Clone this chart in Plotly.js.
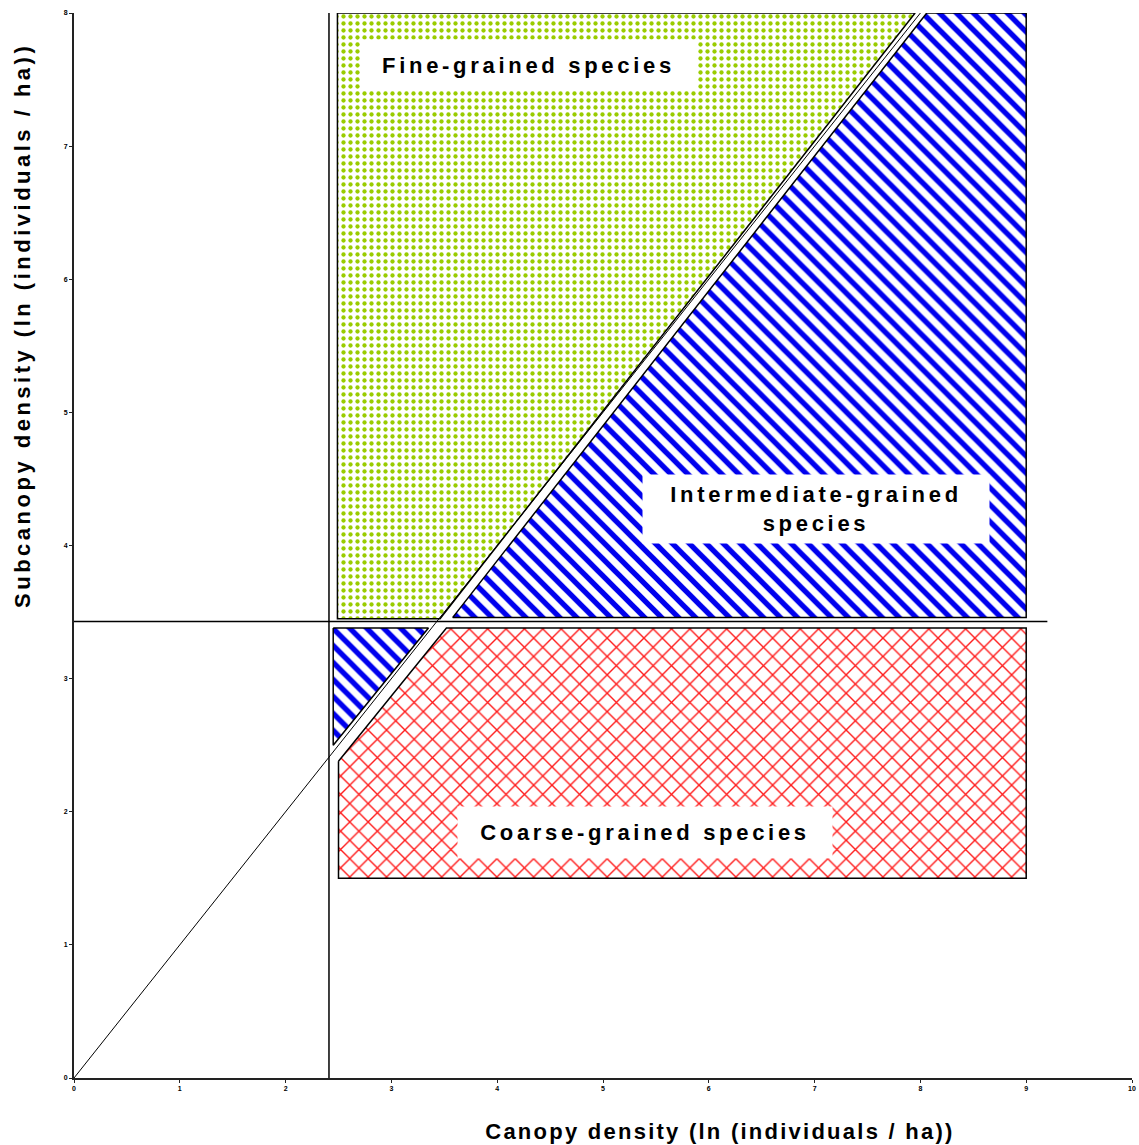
<!DOCTYPE html>
<html>
<head>
<meta charset="utf-8">
<script src="https://cdn.plot.ly/plotly-3.0.1.min.js"></script>
<style>
  html, body { margin: 0; padding: 0; background: #fff; }
  #chart { width: 1139px; height: 1145px; }
  .annotation .annotation-text { letter-spacing: 3.7px; }
  .annotation[data-index="3"] .annotation-text { letter-spacing: 2.25px; }
  .annotation[data-index="4"] .annotation-text { letter-spacing: 3.5px; }
</style>
</head>
<body>
<div id="chart"></div>
<script>
// Region polygons (canopy density x, subcanopy density y)
const fineX = [2.49, 7.95, 3.46, 2.49, 2.49];
const fineY = [8.0, 8.0, 3.45, 3.45, 8.0];
const interX = [8.06, 9.0, 9.0, 3.58, 8.06];
const interY = [8.0, 8.0, 3.46, 3.46, 8.0];
const interLowX = [2.45, 3.35, 2.45, 2.45];
const interLowY = [3.38, 3.38, 2.5, 3.38];
const coarseX = [2.5, 3.52, 9.0, 9.0, 2.5, 2.5];
const coarseY = [2.38, 3.38, 3.38, 1.5, 1.5, 2.38];
// Reference lines
const vLineX = [2.41, 2.41];
const vLineY = [0, 8.03];
const hLineX = [0, 9.2];
const hLineY = [3.43, 3.43];
const diagX = [0, 8.0];
const diagY = [0, 8.0];
// Tick labels
const xTicks = [0, 1, 2, 3, 4, 5, 6, 7, 8, 9, 10];
const yTicks = [0, 1, 2, 3, 4, 5, 6, 7, 8];
// Labels
const labelFine = "Fine-grained species";
const labelInter = "Intermediate-grained<br>species";
const labelCoarse = "Coarse-grained species";
const xTitle = "Canopy density (ln (individuals / ha))";
const yTitle = "Subcanopy density (ln (individuals / ha))";

const outline = {color: '#000', width: 1.5};
const traces = [
  {x: fineX, y: fineY, mode: 'lines', fill: 'toself', line: outline, fillcolor: 'white',
   fillpattern: {shape: '.', fgcolor: '#99cc00', bgcolor: 'white', size: 7, solidity: 0.3}, hoverinfo: 'skip'},
  {x: interX, y: interY, mode: 'lines', fill: 'toself', line: outline, fillcolor: 'white',
   fillpattern: {shape: '\\', fgcolor: '#0000ee', bgcolor: 'white', size: 12, solidity: 0.45}, hoverinfo: 'skip'},
  {x: interLowX, y: interLowY, mode: 'lines', fill: 'toself', line: outline, fillcolor: 'white',
   fillpattern: {shape: '\\', fgcolor: '#0000ee', bgcolor: 'white', size: 12, solidity: 0.45}, hoverinfo: 'skip'},
  {x: coarseX, y: coarseY, mode: 'lines', fill: 'toself', line: outline, fillcolor: 'white',
   fillpattern: {shape: 'x', fgcolor: '#ff1a1a', bgcolor: 'white', size: 13, solidity: 0.2}, hoverinfo: 'skip'},
  {x: vLineX, y: vLineY, mode: 'lines', line: {color: '#000', width: 1.5}, hoverinfo: 'skip'},
  {x: hLineX, y: hLineY, mode: 'lines', line: {color: '#000', width: 1.5}, hoverinfo: 'skip'},
  {x: diagX, y: diagY, mode: 'lines', line: {color: '#000', width: 1}, hoverinfo: 'skip'}
];

const labelFont = {family: 'Liberation Sans, Arial, sans-serif', size: 22, color: '#000', weight: 'bold'};
const layout = {
  width: 1139, height: 1145,
  margin: {l: 74, r: 7, t: 13, b: 67},
  paper_bgcolor: 'white', plot_bgcolor: 'white',
  showlegend: false,
  xaxis: {range: [0, 10], tickvals: xTicks, ticktext: xTicks.map(String), showgrid: false, zeroline: false,
          showline: true, linecolor: '#222', linewidth: 2, ticks: 'outside', ticklen: 3, tickcolor: '#222',
          tickfont: {family: 'Liberation Sans, Arial', size: 7, color: '#000', weight: 'bold'}},
  yaxis: {range: [0, 8], tickvals: yTicks, ticktext: yTicks.map(String), showgrid: false, zeroline: false,
          showline: true, linecolor: '#222', linewidth: 2, ticks: 'outside', ticklen: 3, tickcolor: '#222',
          tickfont: {family: 'Liberation Sans, Arial', size: 7, color: '#000', weight: 'bold'}},
  annotations: [
    {x: 4.30, y: 7.61, xref: 'x', yref: 'y', text: labelFine, showarrow: false, font: labelFont,
     bgcolor: 'white', borderpad: 0, width: 335, height: 50},
    {x: 7.01, y: 4.275, xref: 'x', yref: 'y', text: labelInter, showarrow: false, font: labelFont,
     bgcolor: 'white', borderpad: 0, width: 346, height: 68},
    {x: 5.40, y: 1.845, xref: 'x', yref: 'y', text: labelCoarse, showarrow: false, font: labelFont,
     bgcolor: 'white', borderpad: 0, width: 374, height: 51},
    {x: 0.6106, y: -0.0498, xref: 'paper', yref: 'paper', text: xTitle, showarrow: false, font: labelFont,
     xanchor: 'center', yanchor: 'middle'},
    {x: -0.049, y: 0.707, xref: 'paper', yref: 'paper', text: yTitle, showarrow: false, font: labelFont,
     textangle: -90, xanchor: 'center', yanchor: 'middle'}
  ]
};

Plotly.newPlot('chart', traces, layout, {displayModeBar: false, staticPlot: true});
</script>
</body>
</html>
